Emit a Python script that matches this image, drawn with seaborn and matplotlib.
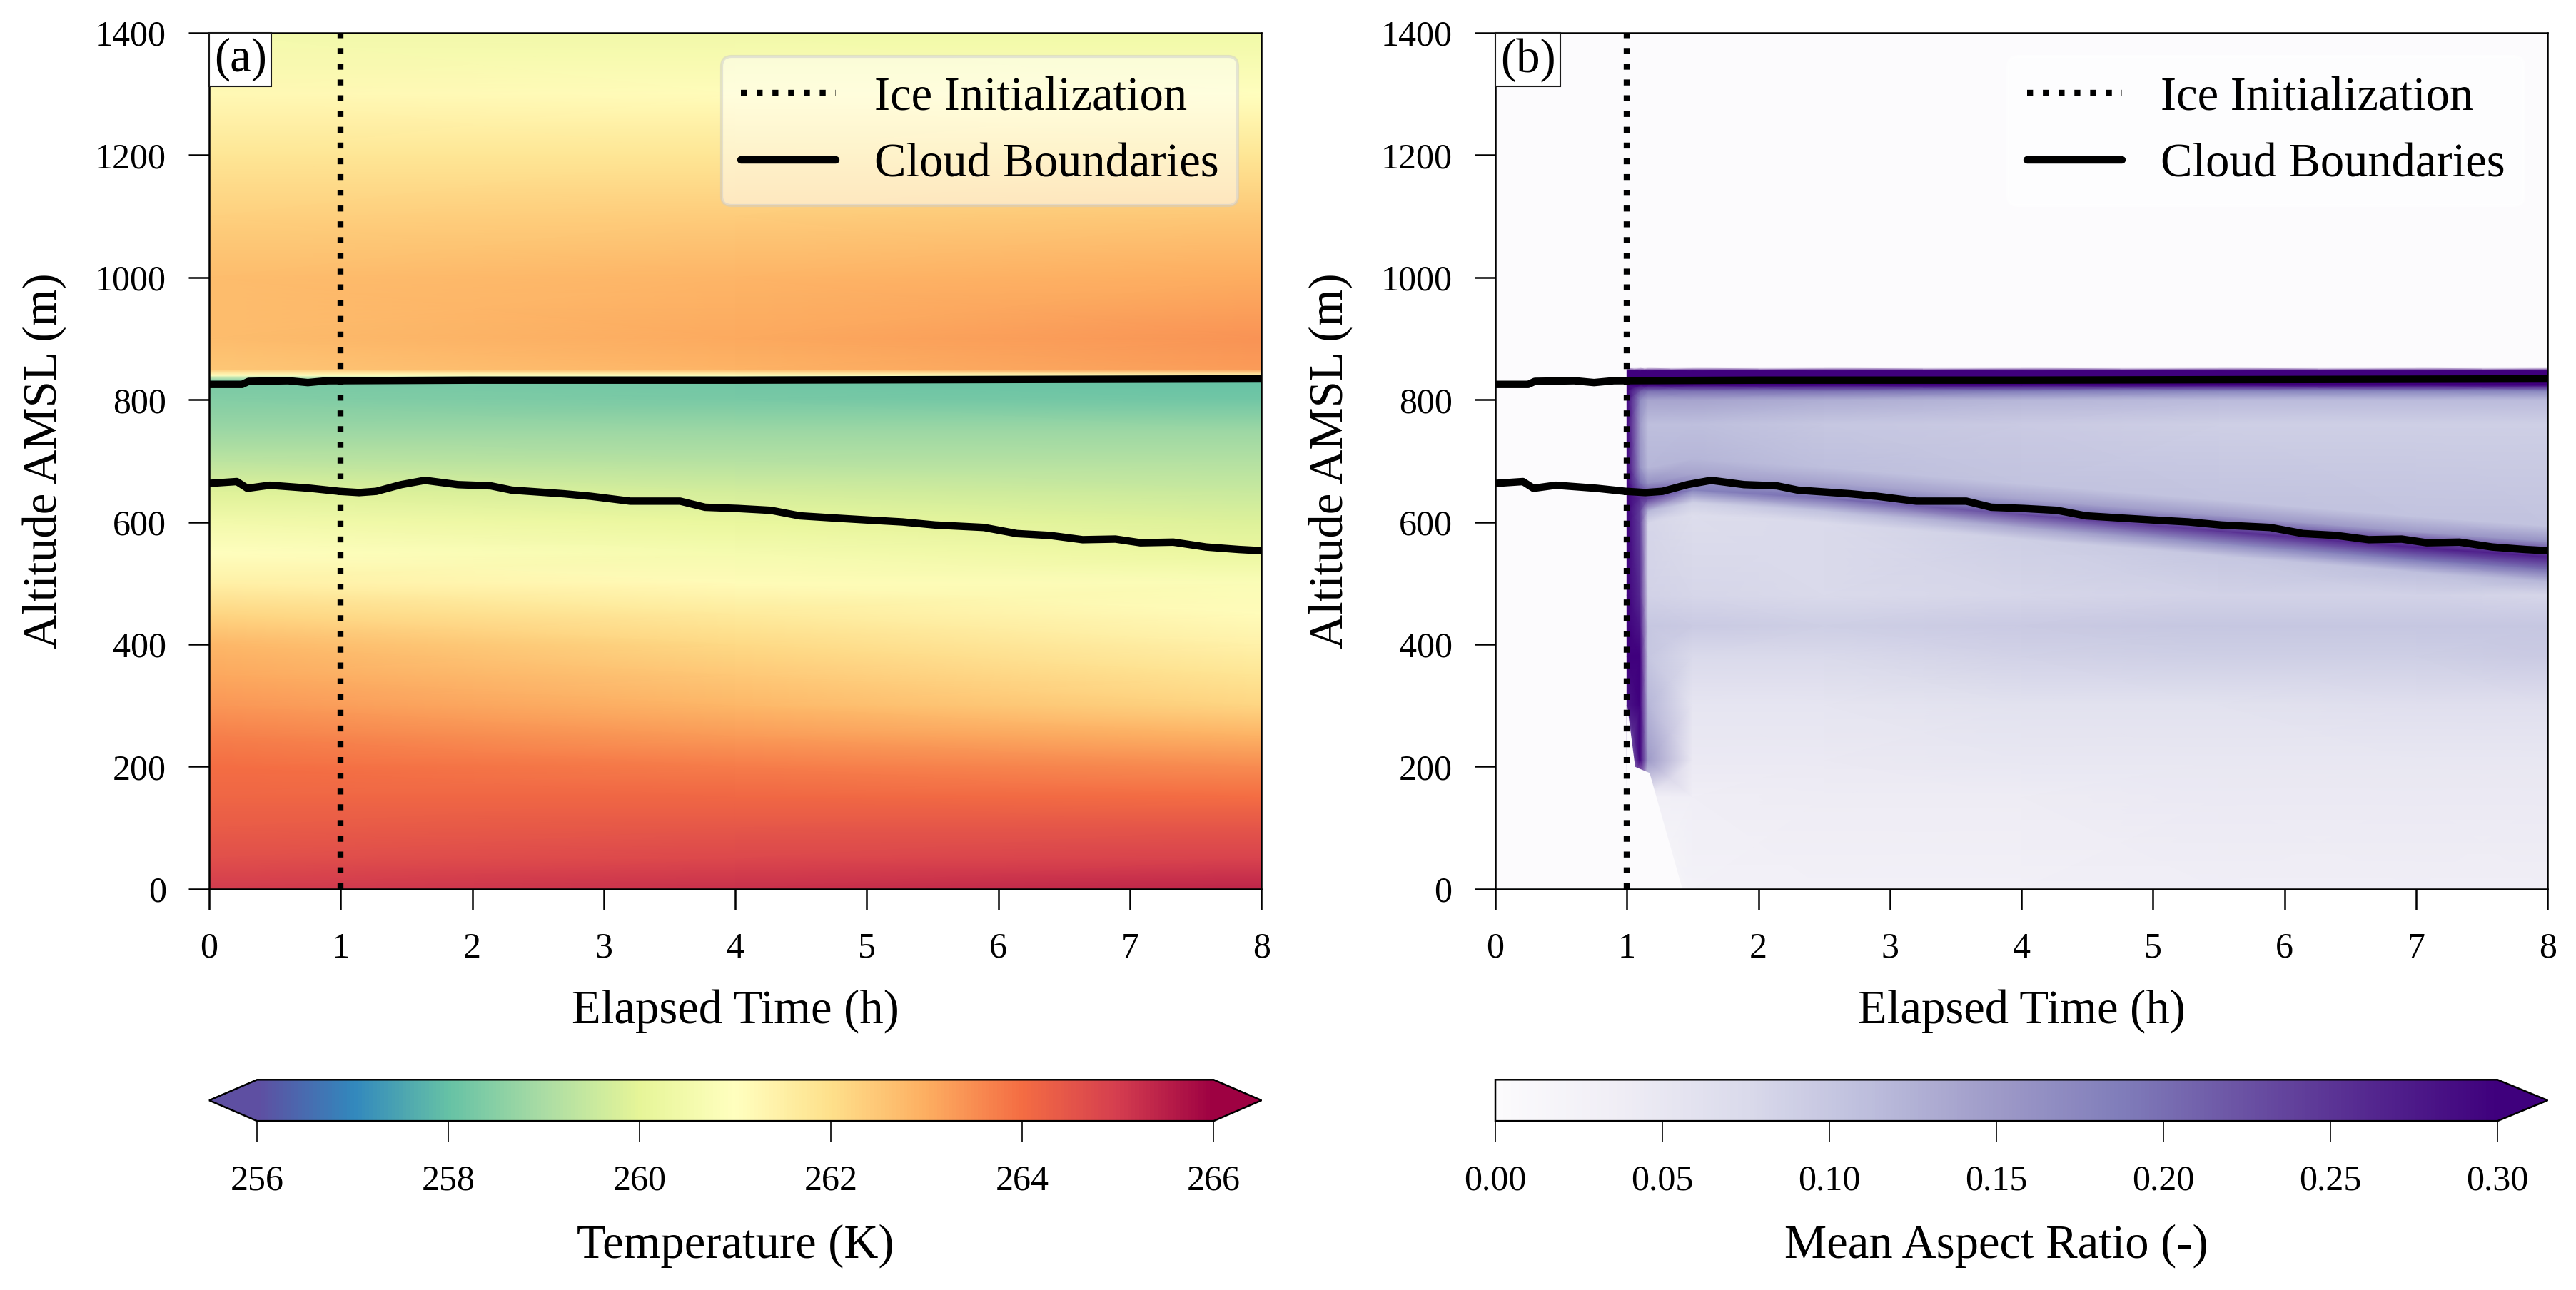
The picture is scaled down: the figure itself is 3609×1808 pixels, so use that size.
import numpy as np
import seaborn as sns
import matplotlib
matplotlib.use("Agg")
import matplotlib.pyplot as plt
from matplotlib.offsetbox import AnchoredText

# cloud boundaries (h, m AMSL)
cloud_top_time = [0.0, 0.25, 0.3, 0.6, 0.75, 0.9, 2.0, 4.0, 6.0, 8.0]
cloud_top_alt = [825, 825, 830, 831, 828, 831, 832, 832, 833, 834]
cloud_base_time = [0.0, 0.21, 0.29, 0.46, 0.77, 0.99, 1.14, 1.27, 1.46, 1.64, 1.89,
                   2.14, 2.3, 2.7, 2.9, 3.2, 3.58, 3.77, 4.02, 4.27, 4.49, 4.71,
                   5.02, 5.27, 5.52, 5.89, 6.14, 6.39, 6.64, 6.89, 7.08, 7.33,
                   7.58, 7.83, 8.0]
cloud_base_alt = [663, 666, 655, 660, 655, 650, 648, 650, 661, 668, 661,
                  659, 652, 646, 642, 634, 634, 624, 622, 619, 610, 607,
                  603, 600, 595, 591, 581, 578, 571, 572, 566, 567,
                  559, 555, 553]
ice_init_time = 1.0

# temperature (K), rows = altitude, columns = time
temp_times = [0, 4, 8]
temp_alts = [0, 50, 100, 150, 200, 250, 300, 350, 400, 450, 500, 550, 600, 650,
             700, 750, 800, 831, 840, 850, 900, 1000, 1100, 1200, 1300, 1400]
temperature = [
    [265.0, 265.2, 265.4],
    [264.6, 264.75, 264.9],
    [264.35, 264.45, 264.5],
    [264.15, 264.1, 264.0],
    [264.0, 263.75, 263.5],
    [263.7, 263.3, 262.9],
    [263.35, 262.8, 262.2],
    [263.1, 262.45, 261.8],
    [262.8, 262.1, 261.4],
    [262.2, 261.65, 261.1],
    [261.5, 261.15, 260.8],
    [261.0, 260.6, 260.2],
    [260.5, 260.15, 259.85],
    [259.9, 259.7, 259.5],
    [259.3, 259.2, 259.15],
    [258.8, 258.8, 258.8],
    [258.45, 258.3, 258.15],
    [258.3, 258.15, 258.0],
    [261.0, 261.1, 261.3],
    [262.5, 262.9, 263.3],
    [262.7, 263.05, 263.4],
    [262.7, 262.85, 263.0],
    [262.3, 262.4, 262.5],
    [261.8, 261.8, 261.8],
    [261.2, 261.1, 261.0],
    [260.5, 260.45, 260.4],
]

# mean aspect ratio (-), rows = levels (fixed altitude or relative to cloud base)
ratio_times = [1.0, 1.1, 1.16, 1.5, 2.5, 4.0, 5.5, 7.0, 8.0]
ratio_level_offset = [0, 150, 210, 300, 380, 430, 480, -50, -30, -10, 0, 15, 40,
                      760, 800, 815, 824, 848, 852]
ratio_level_on_base = [False, False, False, False, False, False, False, True, True,
                       True, True, True, True, False, False, False, False, False, False]
aspect_ratio = [
    [0.00, 0.00, 0.00, 0.025, 0.030, 0.030, 0.035, 0.035, 0.035],
    [0.00, 0.00, 0.03, 0.035, 0.040, 0.040, 0.045, 0.045, 0.045],
    [0.15, 0.30, 0.15, 0.045, 0.045, 0.050, 0.050, 0.050, 0.050],
    [0.28, 0.30, 0.12, 0.055, 0.055, 0.060, 0.060, 0.065, 0.065],
    [0.30, 0.30, 0.10, 0.075, 0.075, 0.085, 0.090, 0.090, 0.095],
    [0.30, 0.28, 0.10, 0.095, 0.090, 0.095, 0.100, 0.100, 0.100],
    [0.30, 0.26, 0.085, 0.080, 0.075, 0.080, 0.085, 0.085, 0.080],
    [0.30, 0.24, 0.08, 0.070, 0.075, 0.090, 0.100, 0.110, 0.120],
    [0.30, 0.24, 0.12, 0.090, 0.110, 0.140, 0.170, 0.190, 0.200],
    [0.30, 0.26, 0.24, 0.180, 0.200, 0.230, 0.250, 0.270, 0.270],
    [0.30, 0.24, 0.22, 0.170, 0.170, 0.190, 0.210, 0.230, 0.230],
    [0.30, 0.20, 0.16, 0.140, 0.140, 0.140, 0.150, 0.150, 0.160],
    [0.30, 0.16, 0.12, 0.120, 0.110, 0.105, 0.105, 0.105, 0.105],
    [0.30, 0.15, 0.11, 0.110, 0.100, 0.095, 0.090, 0.090, 0.090],
    [0.30, 0.17, 0.14, 0.140, 0.130, 0.120, 0.115, 0.115, 0.115],
    [0.30, 0.22, 0.20, 0.200, 0.200, 0.190, 0.180, 0.180, 0.180],
    [0.32, 0.32, 0.32, 0.320, 0.320, 0.320, 0.320, 0.320, 0.320],
    [0.32, 0.32, 0.32, 0.320, 0.320, 0.320, 0.320, 0.320, 0.320],
    [0.00, 0.00, 0.00, 0.000, 0.000, 0.000, 0.000, 0.000, 0.000],
]
# lower edge of the falling ice at early times
ice_front_alt = [0, 190, 200, 300]
ice_front_time = [1.42, 1.17, 1.06, 1.0]

sns.set_theme(style="ticks", rc={
    "axes.edgecolor": "black", "axes.linewidth": 0.6,
    "xtick.color": "black", "ytick.color": "black",
    "xtick.major.size": 7, "ytick.major.size": 7,
    "xtick.major.width": 0.6, "ytick.major.width": 0.6,
    "xtick.major.pad": 7.5, "ytick.major.pad": 7.5,
    "text.color": "black", "axes.labelcolor": "black",
})
plt.rcParams["font.family"] = ["Liberation Serif", "DejaVu Serif"]

fig = plt.figure(figsize=(12.03, 6.027), dpi=300)
ax_a = fig.add_axes([0.0812, 0.311, 0.4085, 0.6635])
ax_b = fig.add_axes([0.5805, 0.311, 0.4085, 0.6635])
cax_a = fig.add_axes([0.0812, 0.131, 0.4085, 0.032])
cax_b = fig.add_axes([0.5805, 0.131, 0.4085, 0.032])

# (a) temperature
tx, ty = np.meshgrid(temp_times, temp_alts)
mesh_a = ax_a.pcolormesh(tx, ty, np.array(temperature), cmap="Spectral_r",
                         vmin=256, vmax=266, shading="gouraud", rasterized=True)

# (b) aspect ratio on a grid that follows the cloud base
base_at = np.interp(ratio_times, cloud_base_time, cloud_base_alt)
rx = np.tile(ratio_times, (len(ratio_level_offset), 1))
ry = np.array([[off + (b if on_base else 0) for b in base_at]
               for off, on_base in zip(ratio_level_offset, ratio_level_on_base)])
purples = plt.get_cmap("Purples")
ax_b.set_facecolor(purples(0.0))
mesh_b = ax_b.pcolormesh(rx, ry, np.array(aspect_ratio), cmap="Purples",
                         vmin=0, vmax=0.3, shading="gouraud", rasterized=True)
ax_b.fill_betweenx(ice_front_alt, ratio_times[0], ice_front_time,
                   color=purples(0.0), lw=0)

for ax, tag, edge in [(ax_a, "(a)", "0.8"), (ax_b, "(b)", "white")]:
    ax.axvline(ice_init_time, color="black", ls=":", lw=2,
               label="Ice Initialization", zorder=4)
    sns.lineplot(x=cloud_top_time, y=cloud_top_alt, ax=ax, color="black", lw=2.5,
                 sort=False, estimator=None, label="Cloud Boundaries", zorder=3)
    sns.lineplot(x=cloud_base_time, y=cloud_base_alt, ax=ax, color="black", lw=2.5,
                 sort=False, estimator=None, zorder=3)
    ax.set_xlim(0, 8)
    ax.set_ylim(0, 1400)
    ax.set_xticks(range(0, 9))
    ax.set_yticks(range(0, 1401, 200))
    ax.tick_params(labelsize=12)
    ax.set_xlabel("Elapsed Time (h)", fontsize=16, labelpad=8)
    ax.set_ylabel("Altitude AMSL (m)", fontsize=16, labelpad=9.5)
    ax.legend(loc="upper right", fontsize=16, framealpha=0.5, edgecolor=edge)
    at = AnchoredText(tag, loc="upper left", prop=dict(size=16), pad=0.1,
                      borderpad=0, frameon=True)
    at.patch.set_linewidth(0.5)
    ax.add_artist(at)

cb_a = fig.colorbar(mesh_a, cax=cax_a, orientation="horizontal", extend="both",
                    ticks=range(256, 267, 2))
cb_a.set_label("Temperature (K)", fontsize=16, labelpad=9)
cb_b = fig.colorbar(mesh_b, cax=cax_b, orientation="horizontal", extend="max",
                    ticks=np.arange(0, 0.301, 0.05), format="%.2f")
cb_b.set_label("Mean Aspect Ratio (-)", fontsize=16, labelpad=9)
for cb in (cb_a, cb_b):
    cb.outline.set_linewidth(0.6)
    cb.ax.tick_params(labelsize=12, length=7, width=0.4, pad=7.5)

fig.savefig("out.png", dpi=300)
